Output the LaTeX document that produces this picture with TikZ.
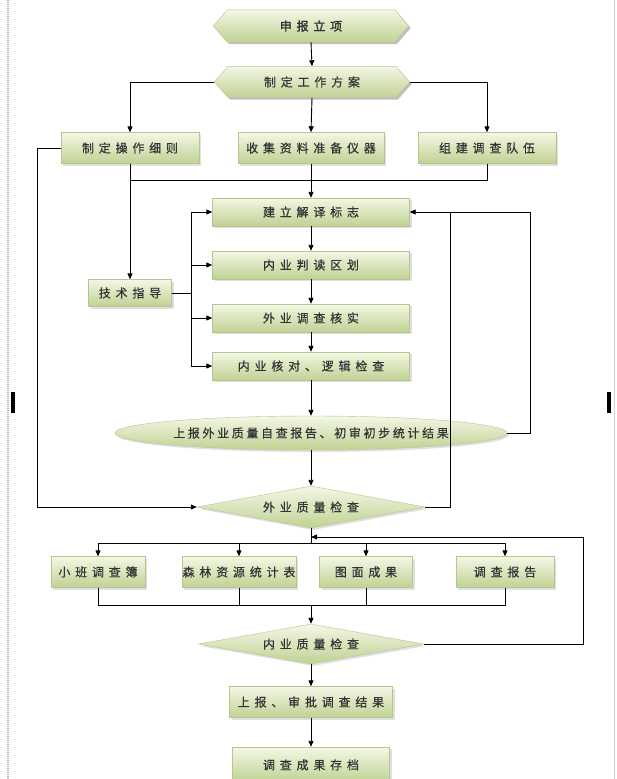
\documentclass[tikz,border=0pt]{standalone}
\usepackage{fontspec}
\newfontfamily\cjk[LetterSpace=40,FakeBold=0.5]{Noto Sans CJK SC}
\newfontfamily\cjkb[LetterSpace=40,FakeBold=1.8]{Noto Sans CJK SC}
\newfontfamily\cjkn[LetterSpace=22,FakeBold=0.5]{Noto Sans CJK SC}
\usetikzlibrary{shapes.geometric,arrows.meta,shadows}
\pgfdeclarelayer{background}
\pgfsetlayers{background,main}
\definecolor{gtop}{HTML}{F4F7E6}
\definecolor{gbot}{HTML}{BFD293}
\definecolor{txt}{HTML}{333333}
\definecolor{edge}{HTML}{B5C78C}
\definecolor{pagel}{HTML}{A8B4C4}
\newcommand\hexpath[1]{(#1.west) -- ([xshift=14pt]#1.north west) -- ([xshift=-14pt]#1.north east) -- (#1.east) -- ([xshift=-14pt]#1.south east) -- ([xshift=14pt]#1.south west) -- cycle}
\tikzset{
  base/.style={font=\cjk\fontsize{12}{14}\selectfont, text=txt, inner sep=0pt,
    top color=gtop, bottom color=gbot, draw=edge, line width=0.4pt,
    drop shadow={shadow xshift=2pt, shadow yshift=-2pt, opacity=0.25}},
  box/.style={base, rectangle, minimum height=29},
  dia/.style={base, diamond, aspect=6},
  hexnode/.style={rectangle, inner sep=0pt, font=\cjk\fontsize{12}{14}\selectfont, text=txt},
  hexfill/.style={top color=gtop, bottom color=gbot, draw=edge, line width=0.4pt},
  hexshadow/.style={fill=black, opacity=0.25, transform canvas={xshift=2pt, yshift=-2pt}},
  arr/.style={-{Triangle[length=6pt,width=5pt]}, line width=0.9pt},
  ln/.style={line width=0.9pt}
}
\begin{document}
\begin{tikzpicture}[x=1pt, y=-1pt]
\useasboundingbox (0,0) rectangle (616,779);
% hexagons (text nodes)
\node[hexnode, minimum width=195, minimum height=32, font=\cjkb\fontsize{12}{14}\selectfont] (p0) at (311,26) {申报立项};
\node[hexnode, minimum width=195, minimum height=31] (p1) at (312,82) {制定工作方案};
\begin{pgfonlayer}{background}
  \fill[white] (0,0) rectangle (616,779);
  % page edges
  \draw[pagel, line width=1.2pt, dash pattern=on 1pt off 1pt] (8,0) -- (8,779);
  \draw[pagel!60, line width=0.8pt] (614,0) -- (614,779);
  \fill[hexshadow] \hexpath{p0};
  \shade[hexfill] \hexpath{p0};
  \fill[hexshadow] \hexpath{p1};
  \shade[hexfill] \hexpath{p1};
\end{pgfonlayer}
\fill[black] (11,392) rectangle (15,413);
\fill[black] (607,392) rectangle (611,413);

% first row
\node[box, minimum width=138, minimum height=31] (c1) at (130,148) {制定操作细则};
\node[box, minimum width=146, minimum height=31] (c2) at (311,148) {收集资料准备仪器};
\node[box, minimum width=138, minimum height=31] (c3) at (487,148) {组建调查队伍};

% main column
\node[box, minimum width=197, minimum height=28] (b1) at (311,212) {建立解译标志};
\node[box, minimum width=197, minimum height=28] (b2) at (311,265) {内业判读区划};
\node[box, minimum width=197, minimum height=28] (b3) at (311,318) {外业调查核实};
\node[box, minimum width=197, minimum height=28] (b4) at (311,366) {内业核对、逻辑检查};
\node[box, minimum width=83, minimum height=27] (tech) at (130,293) {技术指导};

\node[base, ellipse, minimum width=392, minimum height=34, font=\cjkn\fontsize{12}{14}\selectfont] (ell) at (311,433) {上报外业质量自查报告、初审初步统计结果};
\node[dia, minimum width=228, minimum height=42] (d1) at (311,507) {外业质量检查};

% four results
\node[box, minimum width=94, minimum height=31] (e1) at (98,572) {小班调查簿};
\node[box, minimum width=114, minimum height=31] (e2) at (239,572) {森林资源统计表};
\node[box, minimum width=93, minimum height=31] (e3) at (366,572) {图面成果};
\node[box, minimum width=98, minimum height=31] (e4) at (505,572) {调查报告};

\node[dia, minimum width=225, minimum height=40] (d2) at (311,644) {内业质量检查};
\node[box, minimum width=163, minimum height=31] (f1) at (311,702) {上报、审批调查结果};
\node[box, minimum width=157, minimum height=36] (f2) at (311,765) {调查成果存档};

% coordinates
\coordinate (j1) at (130,180);
\coordinate (j3) at (487,180);
\coordinate (tj) at (191,293);
\coordinate (L1) at (37,148);
\coordinate (L2) at (37,507);
\coordinate (RA) at (530,433);
\coordinate (RB) at (450,212);
\coordinate (br) at (311,543);
\coordinate (bt) at (311,605);
\coordinate (RR) at (583,537);
\coordinate (rt) at (311,537);

% connectors
\draw[arr] (p0.south) -- (p1.north);
\draw[arr] (p1.west) -| (c1.north);
\draw[arr] (p1.south) -- (c2.north);
\draw[arr] (p1.east) -| (c3.north);
\draw[ln] (c3.south) -- (j3) -- (j1);
\draw[arr] (c1.south) -- (tech.north);
\draw[arr] (c2.south) -- (b1.north);
\draw[arr] (b1) -- (b2);
\draw[arr] (b2) -- (b3);
\draw[arr] (b3) -- (b4);
\draw[arr] (b4) -- (ell);
\draw[arr] (ell) -- (d1);
\draw[ln] (tech.east) -- (tj);
\draw[arr] (tj) |- (b1.west);
\draw[arr] (tj) |- (b2.west);
\draw[arr] (tj) |- (b3.west);
\draw[arr] (tj) |- (b4.west);
\draw[arr] (c1.west) -- (L1) -- (L2) -- (d1.west);
\draw[arr] (ell.east) -- (RA) |- (b1.east);
\draw[ln] (d1.east) -| (RB);
\draw[ln] (d1.south) -- (br);
\draw[ln] (e1.north |- br) -- (e4.north |- br);
\draw[arr] (e1.north |- br) -- (e1.north);
\draw[arr] (e2.north |- br) -- (e2.north);
\draw[arr] (e3.north |- br) -- (e3.north);
\draw[arr] (e4.north |- br) -- (e4.north);
\draw[ln] (e1.south) -- (e1.south |- bt) -- (e4.south |- bt) -- (e4.south);
\draw[ln] (e2.south) -- (e2.south |- bt);
\draw[ln] (e3.south) -- (e3.south |- bt);
\draw[arr] (bt) -- (d2.north);
\draw[arr] (d2.east) -- (d2.east -| RR) -- (RR) -- (rt);
\draw[arr] (d2) -- (f1);
\draw[arr] (f1) -- (f2);
\end{tikzpicture}
\end{document}
